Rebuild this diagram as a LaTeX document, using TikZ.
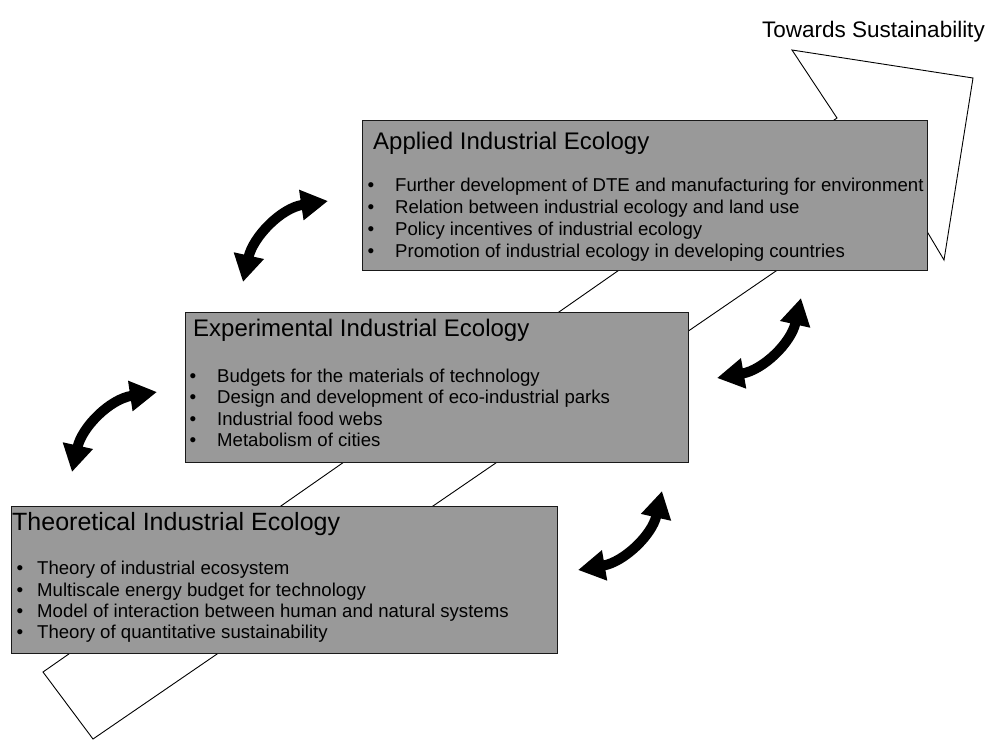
\documentclass[tikz,border=0pt]{standalone}
\usepackage{fontspec}
\setmainfont{Liberation Sans}
\usetikzlibrary{arrows.meta}
\definecolor{boxgray}{RGB}{153,153,153}
\begin{document}
\begin{tikzpicture}[x=1pt,y=-1pt,
  box/.style={draw=black!90,line width=1.1pt,fill=boxgray,inner sep=0pt,anchor=north west},
  ttl/.style={inner sep=0pt,anchor=base west,font=\fontsize{24}{28}\selectfont},
  itm/.style={inner sep=0pt,anchor=base west,font=\fontsize{18.6}{22}\selectfont},
  bul/.style={inner sep=0pt,anchor=base,font=\fontsize{19}{22}\selectfont},
  bigarrow/.style={draw=black,line width=0.9pt,line join=miter},
  dbl/.style={line width=10pt,{Triangle[length=27pt,width=29pt]}-{Triangle[length=27pt,width=29pt]}}]
\useasboundingbox (0,0) rectangle (990,740);

% big outline arrow
\coordinate (t1) at (43,672);
\coordinate (s1) at (837,118);
\coordinate (h1) at (792,50);
\coordinate (tip) at (973,78);
\coordinate (h2) at (944,260);
\coordinate (s2) at (900,186);
\coordinate (t2) at (93,739);
\draw[bigarrow,fill=white] (t1) -- (s1) -- (h1) -- (tip) -- (h2) -- (s2) -- (t2) -- cycle;

\node[inner sep=0pt,anchor=base east,font=\fontsize{22.5}{26}\selectfont] (towards) at (985,37) {Towards Sustainability};

% Applied
\node[box,minimum width=565pt,minimum height=150pt] (applied) at (362,120) {};
\node[ttl] (appT) at (373,149) {Applied Industrial Ecology};
\node[bul] (a1b) at (371,191) {•};
\node[itm] (a1) at (395,191) {Further development of DTE and manufacturing for environment};
\node[bul] (a2b) at (371,213) {•};
\node[itm] (a2) at (395,213) {Relation between industrial ecology and land use};
\node[bul] (a3b) at (371,235) {•};
\node[itm] (a3) at (395,235) {Policy incentives of industrial ecology};
\node[bul] (a4b) at (371,257) {•};
\node[itm] (a4) at (395,257) {Promotion of industrial ecology in developing countries};

% Experimental
\node[box,minimum width=503pt,minimum height=150pt] (exper) at (185,312) {};
\node[ttl] (expT) at (193,336) {Experimental Industrial Ecology};
\node[bul] (e1b) at (193,382) {•};
\node[itm] (e1) at (217,382) {Budgets for the materials of technology};
\node[bul] (e2b) at (193,403) {•};
\node[itm] (e2) at (217,403) {Design and development of eco-industrial parks};
\node[bul] (e3b) at (193,425) {•};
\node[itm] (e3) at (217,425) {Industrial food webs};
\node[bul] (e4b) at (193,446) {•};
\node[itm] (e4) at (217,446) {Metabolism of cities};

% Theoretical
\node[box,minimum width=546pt,minimum height=147pt] (theor) at (11,506) {};
\node[ttl,font=\fontsize{25}{28}\selectfont] (thT) at (12,530) {Theoretical Industrial Ecology};
\node[bul] (t1b) at (20,574) {•};
\node[itm] (th1) at (37,574) {Theory of industrial ecosystem};
\node[bul] (t2b) at (20,596) {•};
\node[itm] (th2) at (37,596) {Multiscale energy budget for technology};
\node[bul] (t3b) at (20,617) {•};
\node[itm] (th3) at (37,617) {Model of interaction between human and natural systems};
\node[bul] (t4b) at (20,638) {•};
\node[itm] (th4) at (37,638) {Theory of quantitative sustainability};

% double-headed curved arrows
\coordinate (p1a) at (72,472);  \coordinate (p1b) at (157,392);
\coordinate (p2a) at (243,282); \coordinate (p2b) at (328,201);
\coordinate (p3a) at (578,570); \coordinate (p3b) at (662,491);
\coordinate (p4a) at (717,378); \coordinate (p4b) at (801,298);
\draw[dbl] (p1a) .. controls (82,427) and (110,399) .. (p1b);
\draw[dbl] (p2a) .. controls (253,237) and (281,208) .. (p2b);
\draw[dbl] (p3a) .. controls (624,562) and (652,535) .. (p3b);
\draw[dbl] (p4a) .. controls (763,370) and (791,343) .. (p4b);
\end{tikzpicture}
\end{document}
